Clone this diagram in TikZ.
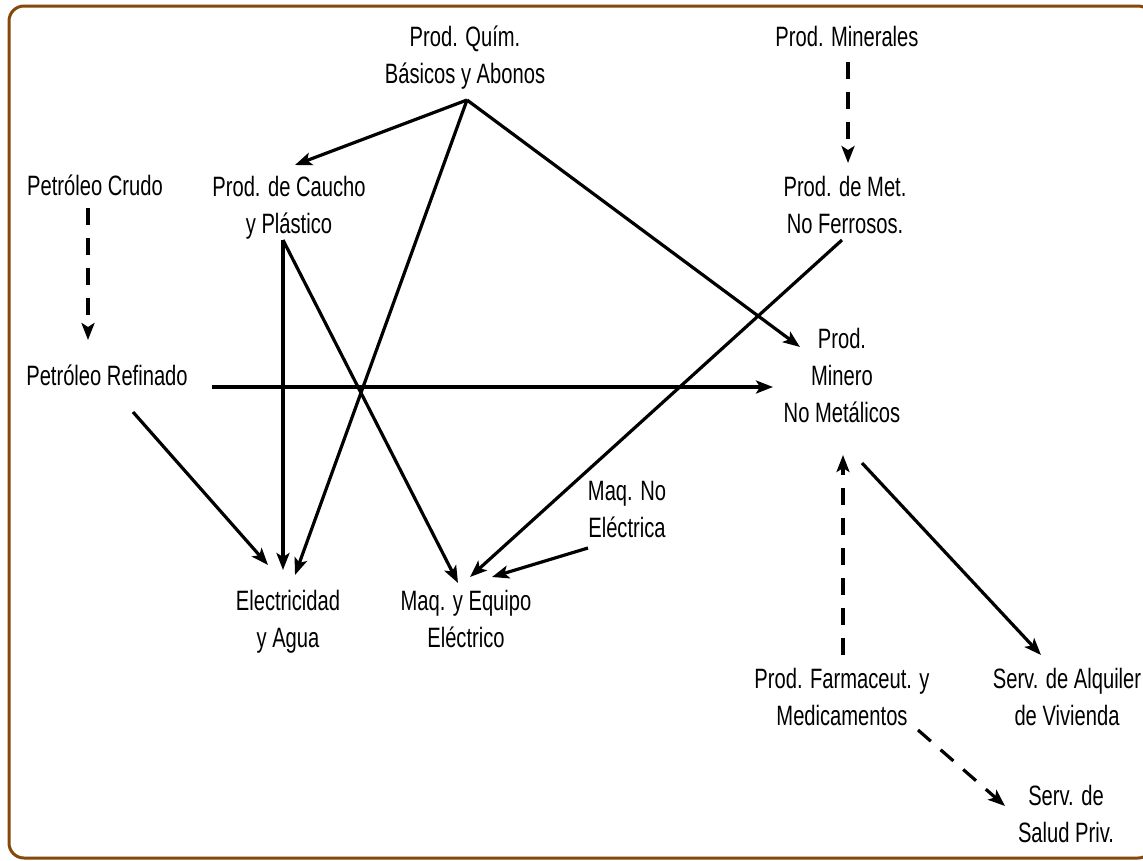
\documentclass[tikz,border=0pt]{standalone}
\usepackage{fontspec}
\setmainfont[FakeStretch=0.72]{Liberation Sans}
\usetikzlibrary{arrows.meta}
\definecolor{frame}{RGB}{133,72,10}
\tikzset{
  lbl/.style={align=center,anchor=base,inner sep=0pt,font=\fontsize{28}{37}\selectfont},
  arr/.style={line width=3.2pt,-{Stealth[length=17pt,width=13pt,inset=4pt]}},
  darr/.style={arr,dash pattern=on 17pt off 13pt}
}
\begin{document}
\begin{tikzpicture}[x=1pt,y=-1pt]
\useasboundingbox (0,0) rectangle (1143,860);
\begin{scope}
\clip (0,0) rectangle (1143,860);
\draw[frame,line width=3pt,rounded corners=15pt] (9,6) rectangle (1153,858);
\end{scope}
% labels (anchor = baseline of the last line)
\node[lbl] (quim) at (465,83) {Prod. Quím.\\Básicos y Abonos};
\node[lbl] (miner) at (847,46) {Prod. Minerales};
\node[lbl] (crudo) at (95,195) {Petróleo Crudo};
\node[lbl] (caucho) at (289,233) {Prod. de Caucho\\y Plástico};
\node[lbl] (met) at (845,233) {Prod. de Met.\\No Ferrosos.};
\node[lbl] (minero) at (842,422) {Prod.\\Minero\\No Metálicos};
\node[lbl] (refinado) at (107,385) {Petróleo Refinado};
\node[lbl] (maqno) at (627,537) {Maq. No\\Eléctrica};
\node[lbl] (elec) at (288,647) {Electricidad\\y Agua};
\node[lbl] (maq) at (466,647) {Maq. y Equipo\\Eléctrico};
\node[lbl] (farma) at (842,725) {Prod. Farmaceut. y\\Medicamentos};
\node[lbl] (alq) at (1067,725) {Serv. de Alquiler\\de Vivienda};
\node[lbl] (salud) at (1066,842) {Serv. de\\Salud Priv.};
% connector end points
\coordinate (quimO) at (467,100);
\coordinate (cauchoI) at (295,165);
\coordinate (cauchoO) at (283,240);
\coordinate (minerO) at (848,62);
\coordinate (metI) at (848,163);
\coordinate (metO) at (842,240);
\coordinate (crudoO) at (88,208);
\coordinate (refI) at (88,340);
\coordinate (refO1) at (212,387);
\coordinate (refO2) at (133,412);
\coordinate (mineroI1) at (773,387);
\coordinate (mineroI2) at (800,347);
\coordinate (mineroI3) at (843,455);
\coordinate (mineroO) at (862,463);
\coordinate (elecI1) at (268,565);
\coordinate (elecI2) at (283,570);
\coordinate (elecI3) at (295,575);
\coordinate (maqI1) at (458,583);
\coordinate (maqI2) at (470,577);
\coordinate (maqI3) at (492,577);
\coordinate (maqnoO) at (588,548);
\coordinate (alqI) at (1041,655);
\coordinate (farmaO1) at (843,655);
\coordinate (farmaO2) at (918,730);
\coordinate (saludI) at (1005,806);
% connectors
\draw[arr] (quimO) -- (cauchoI);
\draw[arr] (quimO) -- (elecI3);
\draw[arr] (quimO) -- (mineroI2);
\draw[darr] (minerO) -- (metI);
\draw[darr] (crudoO) -- (refI);
\draw[arr] (cauchoO) -- (elecI2);
\draw[arr] (cauchoO) -- (maqI1);
\draw[arr] (refO1) -- (mineroI1);
\draw[arr] (refO2) -- (elecI1);
\draw[arr] (metO) -- (maqI2);
\draw[arr] (maqnoO) -- (maqI3);
\draw[arr] (mineroO) -- (alqI);
\draw[darr] (farmaO1) -- (mineroI3);
\draw[darr] (farmaO2) -- (saludI);
\end{tikzpicture}
\end{document}
